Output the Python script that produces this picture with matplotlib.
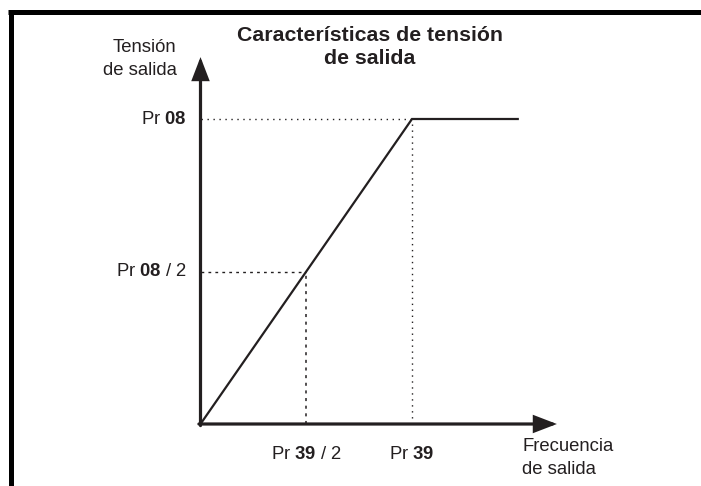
import matplotlib
matplotlib.use("Agg")
import matplotlib.pyplot as plt
from matplotlib.lines import Line2D

plt.rcParams['font.family'] = ['Liberation Sans', 'DejaVu Sans']
plt.rcParams['mathtext.fontset'] = 'custom'
plt.rcParams['mathtext.rm'] = 'Liberation Sans'
plt.rcParams['mathtext.bf'] = 'Liberation Sans:bold'

# V/f characteristic in per-unit: frequency relative to Pr 39, voltage relative to Pr 08
freq = [0.0, 1.0, 1.5]
volt = [0.0, 1.0, 1.0]
y_tick_vals = [1.0, 0.5]
y_tick_labels = [r"Pr $\mathbf{08}$", r"Pr $\mathbf{08}$ / 2"]
x_tick_vals = [0.5, 1.0]
x_tick_labels = [r"Pr $\mathbf{39}$ / 2", r"Pr $\mathbf{39}$"]
title = "Características de tensión\nde salida"
y_name = "Tensión\nde salida"
x_name = "Frecuencia\nde salida"
x_axis_end = 1.685
y_axis_end = 1.203

INK = '#231f20'
W, H = 701, 486
fig = plt.figure(figsize=(W / 100, H / 100), dpi=100)
ax = fig.add_axes([0, 0, 1, 1])
ax.axis('off')

# pixel placement of the origin and unit scale of the diagram
x0, sx = 200.5, 211.5
y0, sy = 424.0, 305.0
ax.set_xlim(-x0 / sx, (W - x0) / sx)
ax.set_ylim(-(H - y0) / sy, y0 / sy)

# frame: heavy rule on top and left side
fig.add_artist(Line2D([8 / W, 1.0], [1 - 12.5 / H] * 2, lw=3.6, color='black',
                      transform=fig.transFigure, solid_capstyle='butt'))
fig.add_artist(Line2D([10.5 / W] * 2, [1 - 10 / H, 0.0], lw=3.6, color='black',
                      transform=fig.transFigure, solid_capstyle='butt'))

# guide lines to the reference points
dotted = (0, (1, 3.3))
dashed = (0, (2, 3))
ax.plot([0, x_tick_vals[1]], [y_tick_vals[0]] * 2,
        color=INK, lw=1.0, linestyle=dotted, zorder=1)
ax.plot([x_tick_vals[1]] * 2, [0, y_tick_vals[0]],
        color=INK, lw=1.0, linestyle=dotted, zorder=1)
ax.plot([0, x_tick_vals[0]], [y_tick_vals[1]] * 2,
        color=INK, lw=1.0, linestyle=dashed, zorder=1)
ax.plot([x_tick_vals[0]] * 2, [0, y_tick_vals[1]],
        color=INK, lw=1.1, linestyle=dashed, zorder=1)

# characteristic
ax.plot(freq, volt, color=INK, lw=1.6, solid_joinstyle='miter', zorder=3)

# axes with arrow heads; tails start half a line width past the origin so the corner is closed
axis_lw = 2.3
half = axis_lw / 72 * 100 / 2
arrow = dict(arrowstyle='-|>,head_length=1.3,head_width=0.5', lw=axis_lw, color=INK,
             shrinkA=0, shrinkB=0, mutation_scale=10, joinstyle='miter')
ax.annotate('', xy=(x_axis_end, 0), xytext=(-half / sx, 0), arrowprops=arrow, zorder=4)
ax.annotate('', xy=(0, y_axis_end), xytext=(0, -half / sy), arrowprops=arrow, zorder=4)

# reference labels
for v, lbl in zip(y_tick_vals, y_tick_labels):
    ax.annotate(lbl, xy=(0, v), xytext=(-10, 0), textcoords='offset points',
                ha='right', va='center', fontsize=13.3, color=INK)
for v, lbl in zip(x_tick_vals, x_tick_labels):
    ax.annotate(lbl, xy=(v, 0), xytext=(0, -25.5), textcoords='offset points',
                ha='center', va='baseline', fontsize=13.3, color=INK)

# axis names and title (baseline refers to the last line)
fig.text(176.5 / W, 1 - 75 / H, y_name, ha='right', va='baseline',
         multialignment='right', fontsize=13.3, linespacing=1.5, color=INK)
fig.text(522 / W, 1 - 474 / H, x_name, ha='left', va='baseline',
         multialignment='left', fontsize=13.3, linespacing=1.45, color=INK)
fig.text(370 / W, 1 - 64 / H, title, ha='center', va='baseline',
         multialignment='center', fontsize=15.3, linespacing=1.3,
         fontweight='bold', color=INK)

fig.savefig('out.png', dpi=100, facecolor='white')
